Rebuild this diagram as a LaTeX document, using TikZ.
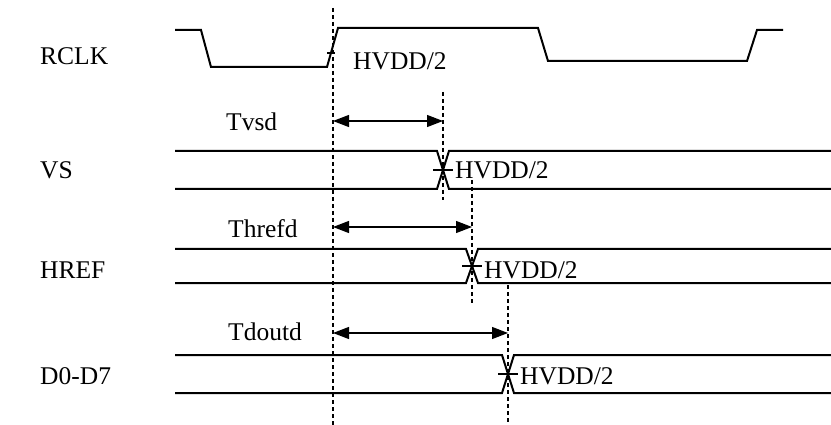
\documentclass[tikz,border=0pt]{standalone}
\usepackage{fontspec}
\setmainfont{Liberation Serif}
\usetikzlibrary{arrows.meta}

\tikzset{
  wave/.style={line width=2pt, line join=miter},
  guide/.style={line width=1.3pt, dash pattern=on 4pt off 3pt},
  delay/.style={line width=1.2pt,
    {Triangle[length=16pt,width=12pt]}-{Triangle[length=16pt,width=12pt]}},
  lbl/.style={anchor=base west, inner sep=0pt, font=\fontsize{25.5}{30}\selectfont},
  levelmark/.style={line width=1.3pt}
}

\begin{document}
\begin{tikzpicture}[x=1pt,y=-1pt]
  \useasboundingbox (0,0) rectangle (831,425);

  % Signal names
  \node[lbl] (rclk) at (40,65)  {RCLK};
  \node[lbl] (vs)   at (40,179) {VS};
  \node[lbl] (href) at (40,279) {HREF};
  \node[lbl] (dout) at (40,384) {D0-D7};

  % Clock waveform
  \draw[wave] (175,30) -- (201,30) -- (211,67) -- (327,67) -- (338,28)
    -- (538,28) -- (548,61) -- (747,61) -- (757,30) -- (783,30);
  \coordinate (clk-x) at (331,53);
  \draw[levelmark] ([xshift=-4pt]clk-x) -- ([xshift=4pt]clk-x);
  \node[lbl] (clk-lvl) at (353,70) {HVDD/2};

  % Reference edge
  \coordinate (ref-top) at (333,8);
  \coordinate (ref-bot) at (333,425);
  \draw[guide] (ref-top) -- (ref-bot);

  % VS
  \coordinate (vs-x) at (443,170);
  \draw[wave] (175,151) -- (437,151) -- (449,189) -- (831,189);
  \draw[wave] (175,189) -- (437,189) -- (449,151) -- (831,151);
  \draw[levelmark] ([xshift=-10pt]vs-x) -- ([xshift=10pt]vs-x);
  \draw[guide] (443,92) -- (443,200);
  \node[lbl] (vs-lvl) at (455,179) {HVDD/2};
  \coordinate (vs-a) at (333,121);
  \coordinate (vs-b) at (443,121);
  \draw[delay] (vs-a) -- (vs-b);
  \node[lbl] (tvsd) at (226,131) {Tvsd};

  % HREF
  \coordinate (href-x) at (472,266);
  \draw[wave] (175,249) -- (466,249) -- (478,283) -- (831,283);
  \draw[wave] (175,283) -- (466,283) -- (478,249) -- (831,249);
  \draw[levelmark] ([xshift=-10pt]href-x) -- ([xshift=10pt]href-x);
  \draw[guide] (472,180) -- (472,305);
  \node[lbl] (href-lvl) at (484,279) {HVDD/2};
  \coordinate (href-a) at (333,227);
  \coordinate (href-b) at (472,227);
  \draw[delay] (href-a) -- (href-b);
  \node[lbl] (threfd) at (228,237) {Threfd};

  % D0-D7
  \coordinate (dout-x) at (508,374);
  \draw[wave] (175,355) -- (502,355) -- (514,393) -- (831,393);
  \draw[wave] (175,393) -- (502,393) -- (514,355) -- (831,355);
  \draw[levelmark] ([xshift=-10pt]dout-x) -- ([xshift=10pt]dout-x);
  \draw[guide] (508,285) -- (508,425);
  \node[lbl] (dout-lvl) at (520,384) {HVDD/2};
  \coordinate (dout-a) at (333,333);
  \coordinate (dout-b) at (508,333);
  \draw[delay] (dout-a) -- (dout-b);
  \node[lbl] (tdoutd) at (228,340) {Tdoutd};
\end{tikzpicture}
\end{document}
